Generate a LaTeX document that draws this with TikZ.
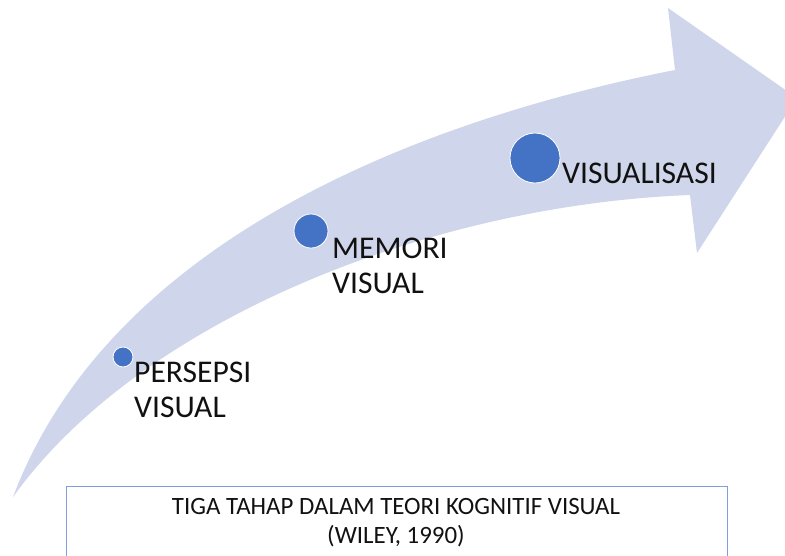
\documentclass[tikz,border=0pt]{standalone}
\usepackage{fontspec}
\setmainfont{Carlito}
\definecolor{arrowfill}{HTML}{CFD5EA}
\definecolor{dotblue}{HTML}{4472C4}
\definecolor{boxline}{HTML}{7F9FDB}
\definecolor{txt}{HTML}{111111}
\begin{document}
\begin{tikzpicture}[x=1pt,y=-1pt,
  dot/.style={circle,fill=dotblue,draw=white,line width=0.8pt,inner sep=0pt},
  lbl/.style={inner sep=0pt,align=left,text=txt,font=\fontsize{31.6}{35}\selectfont},
  captext/.style={inner sep=0pt,align=center,text=txt,font=\fontsize{24.9}{29}\selectfont}]
\useasboundingbox (0,0) rectangle (785,555);
\clip (0,0) rectangle (785,555);
\fill[arrowfill] (13,497) .. controls (110,240) and (420,120) .. (675,70)
  -- (668,8) -- (797,98) -- (697,253) -- (690,195)
  .. controls (430,205) and (140,320) .. (13,497) -- cycle;
\node[dot,minimum size=20pt] (c1) at (123,357) {};
\node[dot,minimum size=34pt] (c2) at (311,231) {};
\node[dot,minimum size=50pt] (c3) at (535,158) {};
\node[lbl,anchor=base west] (t1) at (134,417) {PERSEPSI\\VISUAL};
\node[lbl,anchor=base west] (t2) at (332,293) {MEMORI\\VISUAL};
\node[lbl,anchor=base west] (t3) at (562,183) {VISUALISASI};
\draw[boxline,line width=0.8pt] (66,486) rectangle (727,580);
\node[captext,anchor=base] (t4) at (396,543) {TIGA TAHAP DALAM TEORI KOGNITIF VISUAL\\(WILEY, 1990)};
\end{tikzpicture}
\end{document}
